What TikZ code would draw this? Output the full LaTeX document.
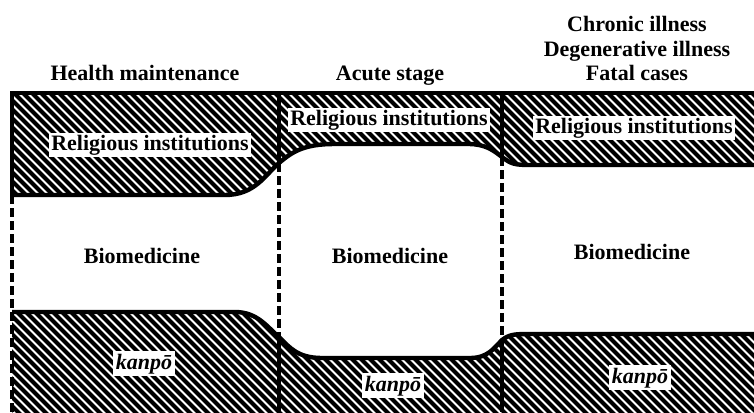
\documentclass[tikz,border=0pt]{standalone}
\usepackage{fontspec}
\setmainfont{Liberation Serif}
\begin{document}
\begin{tikzpicture}[x=1pt,y=-1pt,
  hatchline/.style={line width=4.1pt},
  border/.style={line width=4.4pt},
  solidrule/.style={line width=3.8pt},
  dashrule/.style={line width=4pt, dash pattern=on 8.5pt off 4.5pt},
  lbl/.style={font=\fontsize{22}{24}\selectfont\bfseries, fill=white, inner sep=2pt, anchor=base},
  head/.style={font=\fontsize{22}{24}\selectfont\bfseries, inner sep=0pt, anchor=base, align=center},
  kan/.style={font=\fontsize{22}{24}\selectfont\bfseries\itshape, fill=white, inner sep=2.5pt, anchor=base}]
\useasboundingbox (0,0) rectangle (754,412);
\newcommand\hatchlines{\foreach \c in {-430,-421,...,770} {\draw[hatchline] (\c,0) -- ++(440,440);}}
\def\toppath{(12,93) -- (754,93) -- (754,165) -- (530,165) .. controls (515,165) and (511,164) .. (502,157) .. controls (493,150) and (485,144) .. (468,144) -- (335,144) .. controls (305,144) and (293,151) .. (279,163) .. controls (265,175) and (255,195) .. (225,195) -- (12,195) -- cycle}
\def\botpath{(12,312) -- (235,312) .. controls (258,312) and (268,328) .. (279,337) .. controls (290,348) and (298,358) .. (322,358) -- (470,358) .. controls (488,358) and (494,348) .. (502,340) .. controls (510,334) and (515,334) .. (532,334) -- (754,334) -- (754,420) -- (12,420) -- cycle}
% hatched regions
\begin{scope}
  \clip \toppath;
  \hatchlines
\end{scope}
\begin{scope}
  \clip \botpath;
  \hatchlines
\end{scope}
% labels
\node[head] (h1) at (145,80) {Health maintenance};
\node[head] (h2) at (390,80) {Acute stage};
\node[head] (h3) at (637,80) {Chronic illness\\Degenerative illness\\Fatal cases};
\node[lbl] (r1) at (150,150) {Religious institutions};
\node[lbl] (r2) at (389,125) {Religious institutions};
\node[lbl] (r3) at (634,133) {Religious institutions};
\node[lbl,fill=none] (b1) at (142,263) {Biomedicine};
\node[lbl,fill=none] (b2) at (390,263) {Biomedicine};
\node[lbl,fill=none] (b3) at (632,259) {Biomedicine};
\node[kan] (k1) at (144,369) {kanpō};
\node[kan] (k2) at (393,391) {kanpō};
\node[kan] (k3) at (640,383) {kanpō};
% borders
\draw[border] (10,93) -- (754,93);
\draw[border] (12,195) -- (225,195) .. controls (255,195) and (265,175) .. (279,163) .. controls (293,151) and (305,144) .. (335,144) -- (468,144) .. controls (485,144) and (493,150) .. (502,157) .. controls (511,164) and (515,165) .. (530,165) -- (754,165);
\draw[border] (12,312) -- (235,312) .. controls (258,312) and (268,328) .. (279,337) .. controls (290,348) and (298,358) .. (322,358) -- (470,358) .. controls (488,358) and (494,348) .. (502,340) .. controls (510,334) and (515,334) .. (532,334) -- (754,334);
% dividers
\coordinate (l0) at (12,93); \coordinate (l1) at (12,195); \coordinate (l2) at (12,412);
\coordinate (m0) at (279,93); \coordinate (m1) at (279,163); \coordinate (m2) at (279,337); \coordinate (m3) at (279,412);
\coordinate (n0) at (502,93); \coordinate (n1) at (502,157); \coordinate (n2) at (502,340); \coordinate (n3) at (502,412);
\draw[solidrule] (l0) -- (l1);
\draw[dashrule] (l1) -- (l2);
\draw[solidrule] (m0) -- (m1);
\draw[dashrule] (m1) -- (m2);
\draw[solidrule] (m2) -- (m3);
\draw[solidrule] (n0) -- (n1);
\draw[dashrule] (n1) -- (n2);
\draw[solidrule] (n2) -- (n3);
\end{tikzpicture}
\end{document}
